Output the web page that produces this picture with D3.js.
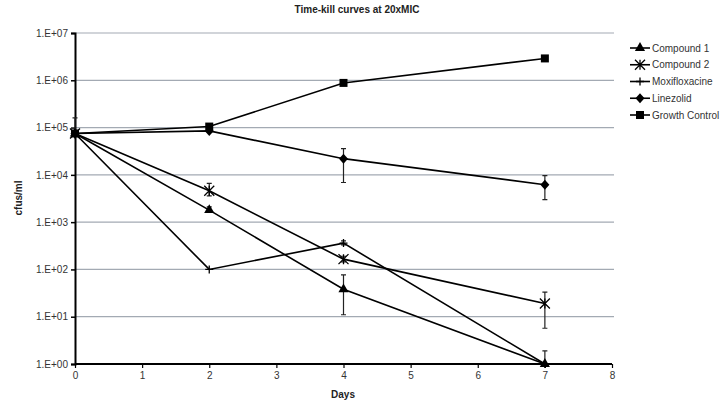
<!DOCTYPE html>
<html><head><meta charset="utf-8">
<script src="https://cdn.jsdelivr.net/npm/d3@7"></script>
<style>body{margin:0;background:#fff;}svg{display:block;font-family:"Liberation Sans",Arial,sans-serif;}</style>
</head><body><svg id="c" width="724" height="404"></svg>
<script>
const days = [0, 2, 4, 7];
const seriesNames = ["Compound 1", "Compound 2", "Moxifloxacine", "Linezolid", "Growth Control"];
const markers = ["triangle", "asterisk", "plus", "diamond", "square"];
const compound1 = [75000, 1800, 38, 1];
const compound1Lo = [70000, 1600, 11, 1];
const compound1Hi = [80000, 2100, 77, 1.9];
const compound2 = [75000, 4600, 165, 19];
const compound2Lo = [70000, 3600, 145, 5.7];
const compound2Hi = [80000, 6600, 190, 33];
const moxi = [75000, 100, 360, 1];
const moxiLo = [70000, 100, 330, 1];
const moxiHi = [160000, 100, 400, 1];
const linezolid = [75000, 85000, 22000, 6200];
const linezolidLo = [70000, 80000, 6900, 3000];
const linezolidHi = [80000, 90000, 36000, 9600];
const growth = [75000, 105000, 880000, 2900000];
const growthLo = [70000, 100000, 820000, 2800000];
const growthHi = [80000, 110000, 980000, 3000000];
const yTicks = [1, 10, 100, 1000, 10000, 100000, 1000000, 10000000];
const yTickLabels = ["1.E+00","1.E+01","1.E+02","1.E+03","1.E+04","1.E+05","1.E+06","1.E+07"];
const xTicks = [0,1,2,3,4,5,6,7,8];

const values = [compound1, compound2, moxi, linezolid, growth];
const los = [compound1Lo, compound2Lo, moxiLo, linezolidLo, growthLo];
const his = [compound1Hi, compound2Hi, moxiHi, linezolidHi, growthHi];

const svg = d3.select("#c");
const x = d3.scaleLinear().domain([0, 8]).range([75, 612]);
const y = d3.scaleLog().domain([1, 1e7]).range([364, 33]);

// gridlines
svg.append("g").selectAll("line").data(yTicks.slice(1)).join("line")
  .attr("x1", x(0)).attr("x2", 614).attr("y1", d => y(d)).attr("y2", d => y(d))
  .attr("stroke", "#a3aab3").attr("stroke-width", 1.2);

// axes
const yAxis = d3.axisLeft(y).tickValues(yTicks).tickFormat((d, i) => yTickLabels[i]).tickSize(4).tickPadding(3);
const gy = svg.append("g").attr("transform", `translate(${x(0)},0)`).call(yAxis);
gy.select(".domain").attr("stroke", "#000").attr("stroke-width", 2);
gy.selectAll(".tick line").attr("stroke", "#000").attr("stroke-width", 1.5);
gy.selectAll("text").attr("font-size", 10).attr("fill", "#333");

const xAxis = d3.axisBottom(x).tickValues(xTicks).tickFormat(d3.format("d")).tickSize(4).tickPadding(4);
const gx = svg.append("g").attr("transform", `translate(0,${y(1)})`).call(xAxis);
gx.select(".domain").attr("stroke", "#000").attr("stroke-width", 2).attr("d", `M${x(0)},0H${x(8)}`);
gx.selectAll(".tick line").attr("stroke", "#000").attr("stroke-width", 1.2);
gx.selectAll("text").attr("font-size", 10).attr("fill", "#333");

// titles
svg.append("text").attr("x", 357).attr("y", 13).attr("text-anchor", "middle")
  .attr("font-size", 10).attr("font-weight", "bold").attr("fill", "#222").text("Time-kill curves at 20xMIC");
svg.append("text").attr("x", 343).attr("y", 398).attr("text-anchor", "middle")
  .attr("font-size", 10).attr("font-weight", "bold").attr("fill", "#222").text("Days");
svg.append("text").attr("transform", "translate(22,198) rotate(-90)").attr("text-anchor", "middle")
  .attr("font-size", 10).attr("font-weight", "bold").attr("fill", "#222").text("cfus/ml");

function drawMarker(g, type, cx, cy) {
  if (type === "triangle") {
    g.append("path").attr("d", d3.symbol(d3.symbolTriangle, 45)()).attr("transform", `translate(${cx},${cy})`).attr("fill", "#000");
  } else if (type === "square") {
    g.append("rect").attr("x", cx - 4).attr("y", cy - 4).attr("width", 8).attr("height", 8).attr("fill", "#000");
  } else if (type === "diamond") {
    g.append("path").attr("d", `M${cx},${cy-5}L${cx+4.5},${cy}L${cx},${cy+5}L${cx-4.5},${cy}Z`).attr("fill", "#000");
  } else if (type === "asterisk") {
    const s = 5;
    g.append("path").attr("d", `M${cx-s},${cy-s}L${cx+s},${cy+s}M${cx-s},${cy+s}L${cx+s},${cy-s}M${cx},${cy-s}L${cx},${cy+s}`)
      .attr("stroke", "#000").attr("stroke-width", 1.3).attr("fill", "none");
  } else if (type === "plus") {
    g.append("path").attr("d", `M${cx},${cy-4}L${cx},${cy+4}M${cx-4},${cy}L${cx+4},${cy}`)
      .attr("stroke", "#000").attr("stroke-width", 1.3).attr("fill", "none");
  }
}

const line = d3.line().x(d => x(d[0])).y(d => y(d[1]));
const plot = svg.append("g");
values.forEach((vals, si) => {
  const g = plot.append("g");
  // error bars
  days.forEach((dd, i) => {
    const lo = los[si][i], hi = his[si][i];
    if (Math.abs(y(lo) - y(hi)) < 1) return;
    const cx = x(dd);
    g.append("path").attr("d", `M${cx},${y(lo)}V${y(hi)}M${cx-2.5},${y(lo)}H${cx+2.5}M${cx-2.5},${y(hi)}H${cx+2.5}`)
      .attr("stroke", "#222").attr("stroke-width", 1.2).attr("fill", "none");
  });
  g.append("path").datum(days.map((dd, i) => [dd, vals[i]])).attr("d", line)
    .attr("fill", "none").attr("stroke", "#000").attr("stroke-width", 1.6);
  days.forEach((dd, i) => drawMarker(g, markers[si], x(dd), y(vals[i])));
});

// legend
const lg = svg.append("g");
seriesNames.forEach((name, i) => {
  const ly = 48 + i * 16.75;
  lg.append("line").attr("x1", 630).attr("x2", 650).attr("y1", ly).attr("y2", ly).attr("stroke", "#000").attr("stroke-width", 1.6);
  drawMarker(lg, markers[i], 640, ly);
  lg.append("text").attr("x", 652).attr("y", ly + 3.5).attr("font-size", 10).attr("fill", "#333").text(name);
});
</script></body></html>
